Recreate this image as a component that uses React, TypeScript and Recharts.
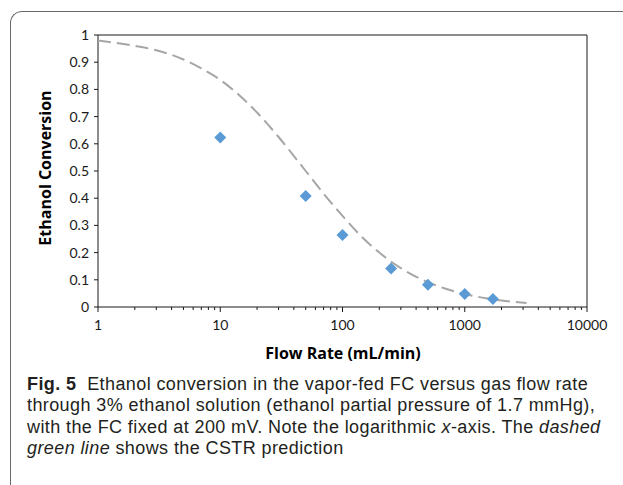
import React from 'react';
import { ScatterChart, Scatter, XAxis, YAxis } from 'recharts';

// measured points (diamonds)
const flowRates = [10, 50, 100, 250, 500, 1000, 1700];
const conversions = [0.623, 0.408, 0.265, 0.142, 0.082, 0.048, 0.029];

// CSTR prediction (dashed curve)
const cstrFlow = [1, 2, 3, 5, 7, 10, 15, 20, 30, 50, 70, 100, 150, 200, 300, 500, 700, 1000, 1500, 2000, 3200];
const cstrConversion = [0.98, 0.96, 0.944, 0.91, 0.877, 0.835, 0.77, 0.715, 0.625, 0.5, 0.417, 0.335, 0.25, 0.2, 0.143, 0.091, 0.067, 0.048, 0.032, 0.024, 0.015];

const xMajorTicks = [1, 10, 100, 1000, 10000];
const xTicks = [
  1, 2, 3, 4, 5, 6, 7, 8, 9,
  10, 20, 30, 40, 50, 60, 70, 80, 90,
  100, 200, 300, 400, 500, 600, 700, 800, 900,
  1000, 2000, 3000, 4000, 5000, 6000, 7000, 8000, 9000,
  10000,
];
const yTicks = [0, 0.1, 0.2, 0.3, 0.4, 0.5, 0.6, 0.7, 0.8, 0.9, 1];

const captionLines = [
  'Ethanol conversion in the vapor-fed FC versus gas flow rate',
  'through 3% ethanol solution (ethanol partial pressure of 1.7 mmHg),',
];

const measured = flowRates.map((x, i) => ({ x, y: conversions[i] }));
const cstr = cstrFlow.map((x, i) => ({ x, y: cstrConversion[i] }));

const axisColor = '#1a1a1a';
const tickFont = 'Lato, "Open Sans", sans-serif';
const titleFont = '"Open Sans", sans-serif';

const BottomTick = (props: any) => {
  const { x, y, payload } = props;
  const major = xMajorTicks.includes(payload.value);
  return (
    <g>
      <line x1={x} x2={x} y1={y} y2={y + (major ? 5 : 3)} stroke={axisColor} strokeWidth={1} />
      {major && (
        <text x={x} y={y + 23} textAnchor="middle" fontSize={14} fontFamily={tickFont} fill="#1a1a1a">
          {payload.value}
        </text>
      )}
    </g>
  );
};

const TopTick = (props: any) => {
  const { x, y, payload } = props;
  const major = xMajorTicks.includes(payload.value);
  return <line x1={x} x2={x} y1={y} y2={y - (major ? 5 : 3)} stroke={axisColor} strokeWidth={1} />;
};

const LeftTick = (props: any) => {
  const { x, y, payload } = props;
  return (
    <g>
      <line x1={x} x2={x - 4} y1={y} y2={y} stroke={axisColor} strokeWidth={1} />
      <text x={x - 9} y={y + 5} textAnchor="end" fontSize={14} fontFamily={tickFont} fill="#1a1a1a">
        {payload.value}
      </text>
    </g>
  );
};

const RightTick = (props: any) => {
  const { x, y } = props;
  return <line x1={x} x2={x + 4} y1={y} y2={y} stroke={axisColor} strokeWidth={1} />;
};

const Diamond = (props: any) => {
  const { cx, cy } = props;
  const r = 6;
  return (
    <polygon
      points={`${cx},${cy - r} ${cx + r},${cy} ${cx},${cy + r} ${cx - r},${cy}`}
      fill="#5B9BD5"
    />
  );
};

const NoDot = () => <g />;

export default function App() {
  return (
    <div style={{ position: 'absolute', left: 0, top: 0, width: 623, height: 485, background: '#fff', overflow: 'hidden' }}>
      <div
        style={{
          position: 'absolute',
          left: 10,
          top: 11,
          width: 700,
          height: 600,
          borderTop: '1.5px solid #6a6a6a',
          borderLeft: '1.5px solid #6a6a6a',
          borderTopLeftRadius: 12,
        }}
      />
      <div style={{ position: 'absolute', left: 0, top: 0 }}>
        <ScatterChart width={623} height={485} margin={{ top: 30, right: 31, left: 38, bottom: 148 }}>
          <XAxis
            xAxisId="bottom"
            dataKey="x"
            type="number"
            scale="log"
            domain={[1, 10000]}
            allowDataOverflow
            ticks={xTicks}
            interval={0}
            height={30}
            tickSize={0}
            tickMargin={0}
            stroke={axisColor}
            tick={<BottomTick />}
          />
          <XAxis
            xAxisId="top"
            orientation="top"
            type="number"
            scale="log"
            domain={[1, 10000]}
            allowDataOverflow
            ticks={xTicks}
            interval={0}
            height={5}
            tickSize={0}
            tickMargin={0}
            stroke={axisColor}
            tick={<TopTick />}
          />
          <YAxis
            yAxisId="left"
            dataKey="y"
            type="number"
            domain={[0, 1]}
            ticks={yTicks}
            interval={0}
            width={60}
            tickSize={0}
            tickMargin={0}
            stroke={axisColor}
            tick={<LeftTick />}
          />
          <YAxis
            yAxisId="right"
            orientation="right"
            type="number"
            domain={[0, 1]}
            ticks={yTicks}
            interval={0}
            width={5}
            tickSize={0}
            tickMargin={0}
            stroke={axisColor}
            tick={<RightTick />}
          />
          <Scatter
            xAxisId="bottom"
            yAxisId="left"
            data={cstr}
            shape={<NoDot />}
            line={{ stroke: '#A6A6A6', strokeWidth: 2, strokeDasharray: '13 6' }}
            lineJointType="monotoneX"
            fill="#A6A6A6"
            isAnimationActive={false}
          />
          <Scatter
            xAxisId="bottom"
            yAxisId="left"
            data={measured}
            shape={<Diamond />}
            fill="#5B9BD5"
            isAnimationActive={false}
          />
        </ScatterChart>
      </div>
      <div
        style={{
          position: 'absolute',
          left: 45,
          top: 168,
          transform: 'translate(-50%, -50%) rotate(-90deg)',
          whiteSpace: 'nowrap',
          fontFamily: titleFont,
          fontWeight: 700,
          fontSize: 16,
          color: '#000',
        }}
      >
        Ethanol Conversion
      </div>
      <div
        style={{
          position: 'absolute',
          left: 343,
          top: 353,
          transform: 'translate(-50%, -50%)',
          whiteSpace: 'nowrap',
          fontFamily: titleFont,
          fontWeight: 700,
          fontSize: 16,
          color: '#000',
        }}
      >
        Flow Rate (mL/min)
      </div>
      <div
        style={{
          position: 'absolute',
          left: 27,
          top: 374,
          width: 600,
          fontFamily: '"Liberation Sans", Arial, sans-serif',
          fontSize: 18,
          lineHeight: '21.3px',
          letterSpacing: 0.4,
          color: '#231f20',
          whiteSpace: 'nowrap',
        }}
      >
        <b>Fig. 5</b>&nbsp;&nbsp;{captionLines[0]}
        <br />
        {captionLines[1]}
        <br />
        with the FC fixed at 200 mV. Note the logarithmic <i>x</i>-axis. The <i>dashed</i>
        <br />
        <i>green line</i> shows the CSTR prediction
      </div>
    </div>
  );
}
